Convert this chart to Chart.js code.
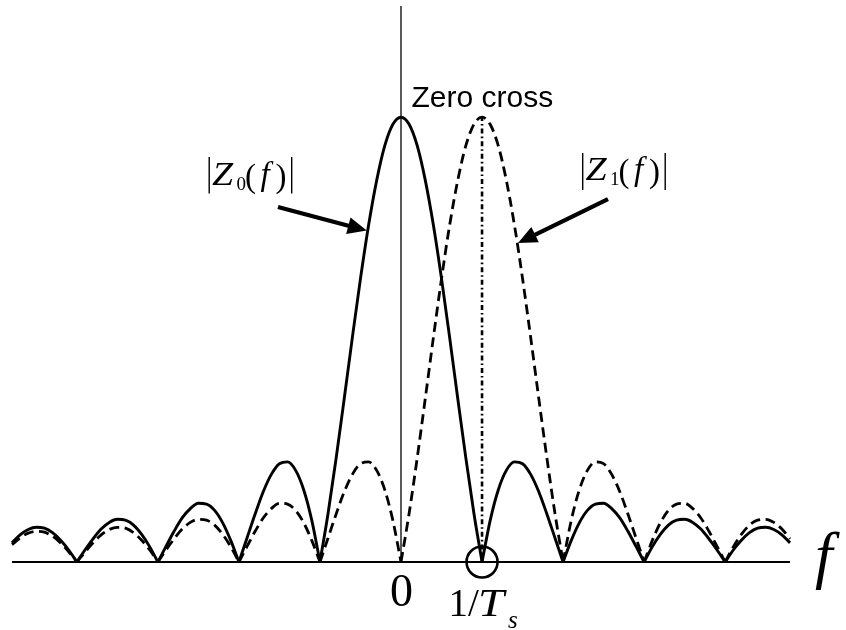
<!DOCTYPE html>
<html>
<head>
<meta charset="utf-8">
<script src="https://cdn.jsdelivr.net/npm/chart.js@4/dist/chart.umd.min.js"></script>
<style>
  html, body { margin: 0; padding: 0; background: #ffffff; }
  #wrap { width: 846px; height: 630px; }
</style>
</head>
<body>
<div id="wrap"><canvas id="spec" width="846" height="630"></canvas></div>
<script>
// Normalised frequency samples (in units of 1/Ts)
const freq = [
  -4.8, -4.7, -4.6, -4.5, -4.4, -4.3, -4.2, -4.1, -4.0,
  -3.9, -3.8, -3.7, -3.6, -3.5, -3.4, -3.3, -3.2, -3.1, -3.0,
  -2.9, -2.8, -2.7, -2.6, -2.5, -2.4, -2.3, -2.2, -2.1, -2.0,
  -1.9, -1.8, -1.7, -1.6, -1.5, -1.4, -1.3, -1.2, -1.1, -1.0,
  -0.9, -0.8, -0.7, -0.6, -0.5, -0.4, -0.3, -0.2, -0.1, 0.0,
  0.1, 0.2, 0.3, 0.4, 0.5, 0.6, 0.7, 0.8, 0.9, 1.0,
  1.1, 1.2, 1.3, 1.4, 1.5, 1.6, 1.7, 1.8, 1.9, 2.0,
  2.1, 2.2, 2.3, 2.4, 2.5, 2.6, 2.7, 2.8, 2.9, 3.0,
  3.1, 3.2, 3.3, 3.4, 3.5, 3.6, 3.7, 3.8, 3.9, 4.0,
  4.1, 4.2, 4.3, 4.4, 4.5, 4.6, 4.7, 4.8
];

// |Z0(f)| : spectrum centred on f = 0
const z0Mag = [
  0.043, 0.061, 0.073, 0.078, 0.076, 0.066, 0.049, 0.027, 0,
  0.027, 0.052, 0.074, 0.089, 0.096, 0.094, 0.083, 0.062, 0.034, 0,
  0.035, 0.069, 0.099, 0.120, 0.132, 0.130, 0.116, 0.088, 0.048, 0,
  0.054, 0.108, 0.158, 0.197, 0.221, 0.225, 0.206, 0.162, 0.093, 0,
  0.109, 0.234, 0.368, 0.505, 0.637, 0.757, 0.858, 0.936, 0.984, 1.000,
  0.984, 0.936, 0.858, 0.757, 0.637, 0.505, 0.368, 0.234, 0.109, 0,
  0.093, 0.162, 0.206, 0.225, 0.221, 0.197, 0.158, 0.108, 0.054, 0,
  0.048, 0.088, 0.116, 0.130, 0.132, 0.120, 0.099, 0.069, 0.035, 0,
  0.034, 0.062, 0.083, 0.094, 0.096, 0.089, 0.074, 0.052, 0.027, 0,
  0.027, 0.049, 0.066, 0.076, 0.078, 0.073, 0.061, 0.043
];

// |Z1(f)| : spectrum centred on f = 1/Ts
const z1Mag = [
  0.039, 0.054, 0.065, 0.069, 0.067, 0.058, 0.043, 0.023, 0,
  0.022, 0.043, 0.061, 0.073, 0.078, 0.076, 0.066, 0.049, 0.027, 0,
  0.027, 0.052, 0.074, 0.089, 0.096, 0.094, 0.083, 0.062, 0.034, 0,
  0.035, 0.069, 0.099, 0.120, 0.132, 0.130, 0.116, 0.088, 0.048, 0,
  0.054, 0.108, 0.158, 0.197, 0.221, 0.225, 0.206, 0.162, 0.093, 0,
  0.109, 0.234, 0.368, 0.505, 0.637, 0.757, 0.858, 0.936, 0.984, 1.000,
  0.984, 0.936, 0.858, 0.757, 0.637, 0.505, 0.368, 0.234, 0.109, 0,
  0.093, 0.162, 0.206, 0.225, 0.221, 0.197, 0.158, 0.108, 0.054, 0,
  0.048, 0.088, 0.116, 0.130, 0.132, 0.120, 0.099, 0.069, 0.035, 0,
  0.034, 0.062, 0.083, 0.094, 0.096, 0.089, 0.074, 0.052
];

// Marked positions on the frequency axis and their labels
const tickValues = [0, 1];
const tickLabels = ['0', '1/Ts'];

// Frequency range shown and the marked zero crossing
const fRange = [-4.8, 4.8];
const zeroCrossAt = 1;
const peakLevel = 1;
const axisTop = 1.25;

const serif = '"Liberation Serif", "Times New Roman", serif';
const sans = '"Liberation Sans", Arial, sans-serif';

// Split a magnitude curve into lobes at its nulls so each null stays a sharp cusp
function splitLobes(xs, ys) {
  const lobes = [];
  let cur = [];
  for (let i = 0; i < xs.length; i++) {
    const p = { x: xs[i], y: ys[i] };
    cur.push(p);
    if (ys[i] === 0 && cur.length > 1) {
      lobes.push(cur);
      cur = [p];
    }
  }
  if (cur.length > 1) lobes.push(cur);
  return lobes;
}

const datasets = [];

// frequency axis
datasets.push({
  data: [{ x: fRange[0], y: 0 }, { x: fRange[1], y: 0 }],
  borderColor: '#000', borderWidth: 1.8, pointRadius: 0, tension: 0
});
// amplitude axis at f = 0
datasets.push({
  data: [{ x: 0, y: 0 }, { x: 0, y: axisTop }],
  borderColor: '#000', borderWidth: 1.3, pointRadius: 0, tension: 0
});
// dash-dot marker from the zero crossing up to the Z1 peak
datasets.push({
  data: [{ x: zeroCrossAt, y: 0 }, { x: zeroCrossAt, y: peakLevel }],
  borderColor: '#000', borderWidth: 2.6, borderDash: [5, 3, 1.6, 3],
  pointRadius: 0, tension: 0
});

splitLobes(freq, z1Mag).forEach(lobe => datasets.push({
  data: lobe, borderColor: '#000', borderWidth: 2.8, borderDash: [10, 5.5],
  pointRadius: 0, cubicInterpolationMode: 'monotone', borderCapStyle: 'butt'
}));
splitLobes(freq, z0Mag).forEach(lobe => datasets.push({
  data: lobe, borderColor: '#000', borderWidth: 2.9,
  pointRadius: 0, cubicInterpolationMode: 'monotone'
}));

// circle around the zero crossing of Z0 at 1/Ts
datasets.push({
  data: [{ x: zeroCrossAt, y: 0 }],
  showLine: false, pointRadius: 15.5, pointHoverRadius: 15.5,
  pointBorderWidth: 2.6, pointBorderColor: '#000',
  pointBackgroundColor: 'rgba(0,0,0,0)'
});

datasets.forEach(d => { d.clip = false; d.fill = false; });

function arrow(ctx, x0, y0, x1, y1, shaft, headLen, headW) {
  const a = Math.atan2(y1 - y0, x1 - x0);
  const bx = x1 - headLen * Math.cos(a), by = y1 - headLen * Math.sin(a);
  ctx.save();
  ctx.strokeStyle = '#000';
  ctx.fillStyle = '#000';
  ctx.lineWidth = shaft;
  ctx.lineCap = 'butt';
  ctx.beginPath();
  ctx.moveTo(x0, y0);
  ctx.lineTo(bx + 2 * Math.cos(a), by + 2 * Math.sin(a));
  ctx.stroke();
  ctx.beginPath();
  ctx.moveTo(x1, y1);
  ctx.lineTo(bx + headW / 2 * Math.sin(a), by - headW / 2 * Math.cos(a));
  ctx.lineTo(bx - headW / 2 * Math.sin(a), by + headW / 2 * Math.cos(a));
  ctx.closePath();
  ctx.fill();
  ctx.restore();
}

function txt(ctx, s, x, y, font, sx) {
  ctx.font = font;
  if (sx) {
    ctx.save();
    ctx.translate(x, y);
    ctx.scale(sx, 1);
    ctx.fillText(s, 0, 0);
    ctx.restore();
  } else {
    ctx.fillText(s, x, y);
  }
}

// |Z_n(f)| label drawn piece by piece (magnitude bars, italic Z, subscript, (f))
function magLabel(ctx, x, yBase, sub, barTop, barBot) {
  ctx.save();
  ctx.fillStyle = '#000';
  ctx.textAlign = 'left';
  ctx.textBaseline = 'alphabetic';
  ctx.fillRect(x, barTop, 1.4, barBot - barTop);
  txt(ctx, 'Z', x + 3.5, yBase, 'italic 33px ' + serif, 1.15);
  txt(ctx, sub, x + 28, yBase + 5, '19px ' + serif);
  txt(ctx, '(', x + 36.5, yBase + 2, '33px ' + serif);
  txt(ctx, 'f', x + 52, yBase, 'italic 33px ' + serif);
  txt(ctx, ')', x + 67, yBase + 2, '33px ' + serif);
  ctx.fillRect(x + 82.5, barTop, 1.4, barBot - barTop);
  ctx.restore();
}

const annotations = {
  id: 'annotations',
  afterDatasetsDraw(chart) {
    const ctx = chart.ctx;
    const xs = chart.scales.x, ys = chart.scales.y;
    const px = v => xs.getPixelForValue(v);
    const py = v => ys.getPixelForValue(v);

    ctx.save();
    ctx.fillStyle = '#000';
    ctx.textBaseline = 'alphabetic';

    // "Zero cross" caption just right of the amplitude axis
    ctx.textAlign = 'left';
    txt(ctx, 'Zero cross', px(0) + 10.5, py(peakLevel) - 10.5, '30px ' + sans);

    // tick labels under the frequency axis
    ctx.textAlign = 'center';
    txt(ctx, tickLabels[0], px(tickValues[0]) + 0.5, py(0) + 44, '46px ' + serif);

    ctx.textAlign = 'left';
    const x1 = px(tickValues[1]);
    const parts = tickLabels[1].split('/');
    const den = parts[1];
    txt(ctx, parts[0] + '/', x1 - 33.5, py(0) + 54, '39px ' + serif);
    txt(ctx, den[0], x1 - 4, py(0) + 54, 'italic 39px ' + serif, 1.2);
    txt(ctx, den.slice(1), x1 + 26, py(0) + 66, 'italic 25px ' + serif);

    // frequency variable at the end of the axis
    txt(ctx, 'f', px(fRange[1]) + 25, py(0) + 14, 'italic 63px ' + serif);
    ctx.restore();

    // curve labels with pointer arrows
    magLabel(ctx, 208.5, 185, '0', 157, 193.5);
    magLabel(ctx, 582, 180, '1', 153, 190);
    arrow(ctx, px(-1.518), py(0.798), px(-0.423), py(0.745), 4.2, 19, 17);
    arrow(ctx, px(2.554), py(0.816), px(1.444), py(0.717), 4.2, 19, 17);
  }
};

new Chart(document.getElementById('spec'), {
  type: 'line',
  data: { datasets },
  options: {
    responsive: false,
    devicePixelRatio: 1,
    animation: false,
    events: [],
    layout: { autoPadding: false, padding: { left: 12, right: 56, top: 6, bottom: 68 } },
    plugins: { legend: { display: false }, tooltip: { enabled: false } },
    scales: {
      x: { type: 'linear', min: fRange[0], max: fRange[1], display: false },
      y: { type: 'linear', min: 0, max: axisTop, display: false }
    }
  },
  plugins: [annotations]
});
</script>
</body>
</html>
